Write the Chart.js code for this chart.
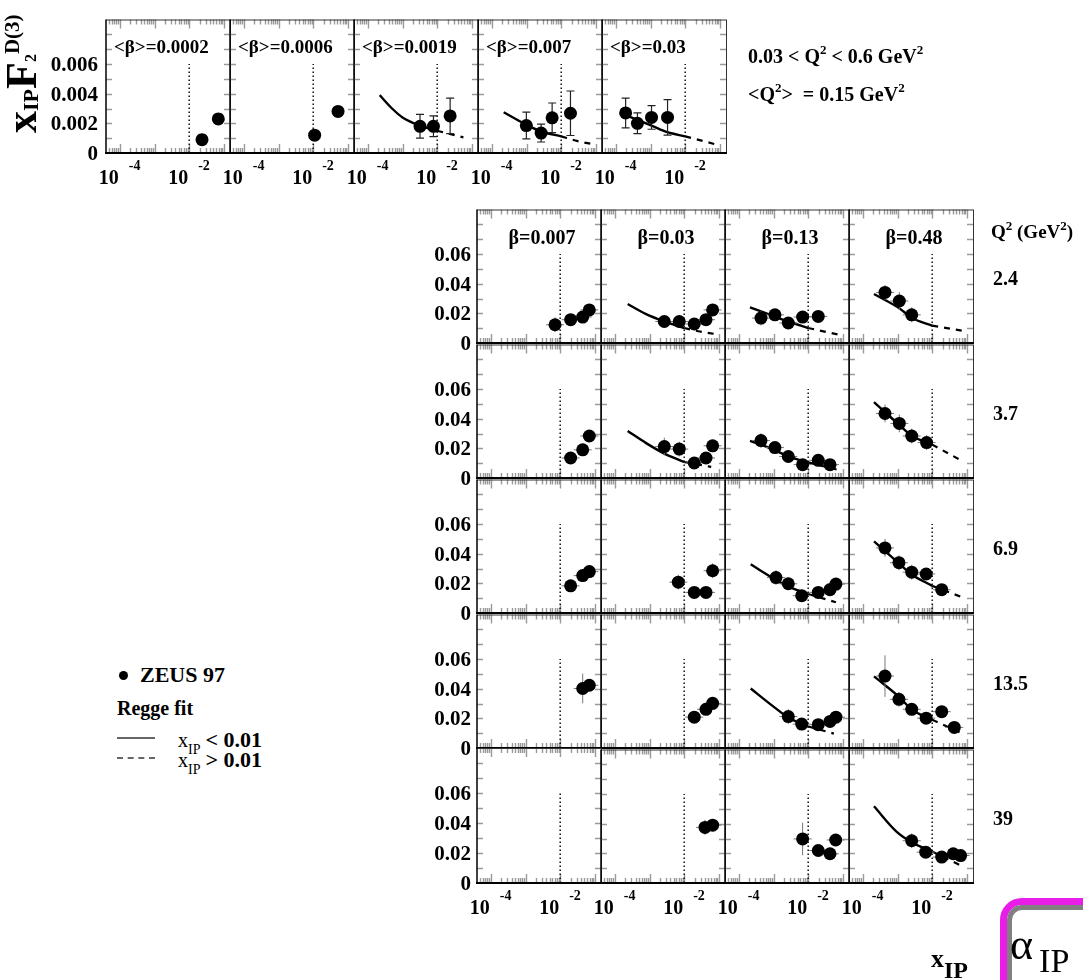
<!DOCTYPE html>
<html><head><meta charset="utf-8">
<script src="https://cdn.jsdelivr.net/npm/chart.js@4.4.1/dist/chart.umd.min.js"></script>
<style>
html,body{margin:0;padding:0;background:#fff;}
body{width:1083px;height:980px;position:relative;overflow:hidden;font-family:'Liberation Serif','Times New Roman',serif;color:#000;}
canvas{position:absolute;}
.t{position:absolute;white-space:nowrap;font-weight:bold;line-height:1;}
.sup{position:relative;}
</style></head><body>
<script>
// ---------------- DATA ----------------
const X_MIN = 4e-5, X_MAX = 0.15;
const cutX = 0.01;
const topTitles = ['<β>=0.0002','<β>=0.0006','<β>=0.0019','<β>=0.007','<β>=0.03'];
const betaTitles = ['β=0.007','β=0.03','β=0.13','β=0.48'];
const q2Values = ['2.4','3.7','6.9','13.5','39'];
const topYTicks = [0, 0.002, 0.004, 0.006];
const topYTickLabels = ['0','0.002','0.004','0.006'];
const gridYTicks = [0, 0.02, 0.04, 0.06];
const gridYTickLabels = ['0','0.02','0.04','0.06'];
const xTickValues = [1e-4, 1e-2];
const xTickBase = '10';
const xTickExponents = ['-4','-2'];

// top row (0.03 < Q2 < 0.6): points [xIP, xIP*F2D3, error]
const top_b0002 = [[0.0234,0.0009,0.0003],[0.069,0.0023,0.0003]];
const top_b0006 = [[0.011,0.0012,0.0003],[0.052,0.0028,0.0003]];
const top_b0019 = [[0.0032,0.0018,0.0008],[0.0078,0.0018,0.0007],[0.0236,0.0025,0.0012]];
const top_b0019_fit = [[2.2e-4,0.0039],[5e-4,0.0030],[1e-3,0.0024],[0.0032,0.00185],[0.01,0.0015],[0.057,0.00105]];
const top_b0007 = [[9.9e-4,0.00185,0.0009],[0.00264,0.00134,0.0006],[0.00548,0.00237,0.001],[0.0185,0.00268,0.0015]];
const top_b0007_fit = [[2.2e-4,0.00275],[1e-3,0.0019],[0.0027,0.00145],[0.01,0.00112],[0.03,0.0008],[0.079,0.0006]];
const top_b003 = [[1.92e-4,0.0027,0.001],[4.2e-4,0.002,0.0007],[0.00107,0.0024,0.0008],[0.0031,0.0024,0.0012]];
const top_b003_fit = [[2.06e-4,0.00252],[1.07e-3,0.00185],[0.0031,0.0014],[0.01,0.00112],[0.077,0.00058]];

// grid: Q2 = 2.4
const q24_b0007 = [[0.0071,0.0123,0.005],[0.020,0.0157,0.003],[0.0445,0.0175,0.003],[0.069,0.0223,0.003]];
const q24_b003 = [[0.00267,0.0145,0.003],[0.0072,0.0145,0.003],[0.0195,0.0128,0.003],[0.0425,0.0157,0.003],[0.066,0.0223,0.003]];
const q24_b003_fit = [[2.35e-4,0.0263],[8e-4,0.0195],[0.0025,0.0148],[0.01,0.0101],[0.0255,0.0079],[0.077,0.0061]];
const q24_b013 = [[4.36e-4,0.0168,0.005],[0.0011,0.019,0.003],[0.00267,0.0135,0.003],[0.0069,0.0175,0.003],[0.0195,0.0179,0.003]];
const q24_b013_fit = [[2.1e-4,0.0241],[0.0011,0.0178],[0.00267,0.0145],[0.01,0.0101],[0.074,0.0057]];
const q24_b048 = [[4.36e-4,0.0341,0.005],[0.00113,0.0283,0.006],[0.00257,0.019,0.005]];
const q24_b048_fit = [[2.1e-4,0.033],[0.0012,0.023],[0.00257,0.017],[0.01,0.0117],[0.071,0.0083]];
// Q2 = 3.7
const q37_b0007 = [[0.020,0.0135,0.003],[0.0445,0.019,0.003],[0.069,0.0283,0.004]];
const q37_b003 = [[0.00267,0.0212,0.006],[0.0072,0.0195,0.005],[0.0195,0.0101,0.003],[0.0425,0.0135,0.003],[0.066,0.0217,0.003]];
const q37_b003_fit = [[2.35e-4,0.0317],[8e-4,0.0235],[0.0025,0.0168],[0.01,0.0108],[0.06,0.0075]];
const q37_b013 = [[4.36e-4,0.0252,0.005],[0.0011,0.0205,0.003],[0.00267,0.0145,0.003],[0.0069,0.009,0.003],[0.0195,0.0119,0.003],[0.0425,0.009,0.003]];
const q37_b013_fit = [[2.1e-4,0.025],[0.0011,0.0188],[0.00267,0.0145],[0.01,0.0105],[0.066,0.0057]];
const q37_b048 = [[4.36e-4,0.0435,0.006],[0.00113,0.0368,0.006],[0.00257,0.0283,0.005],[0.0069,0.0239,0.005]];
const q37_b048_fit = [[2.1e-4,0.0512],[0.00113,0.0357],[0.00257,0.0285],[0.01,0.0225],[0.063,0.0123]];
// Q2 = 6.9
const q69_b0007 = [[0.020,0.0183,0.003],[0.0445,0.0252,0.003],[0.069,0.0279,0.003]];
const q69_b003 = [[0.00676,0.0208,0.005],[0.0195,0.0139,0.003],[0.0425,0.0139,0.003],[0.066,0.0285,0.005]];
const q69_b013 = [[0.00118,0.0239,0.005],[0.00267,0.0197,0.003],[0.0065,0.0117,0.003],[0.0195,0.0139,0.003],[0.0425,0.0157,0.003],[0.063,0.0195,0.003]];
const q69_b013_fit = [[2.2e-4,0.0328],[0.0012,0.0222],[0.0024,0.0183],[0.01,0.0128],[0.063,0.0072]];
const q69_b048 = [[4.36e-4,0.0439,0.006],[0.0011,0.0339,0.005],[0.00257,0.0275,0.005],[0.0067,0.0263,0.004],[0.0188,0.0157,0.003]];
const q69_b048_fit = [[2.1e-4,0.0483],[0.0011,0.0335],[0.00257,0.026],[0.01,0.0183],[0.07,0.0108]];
// Q2 = 13.5
const q135_b0007 = [[0.0445,0.0401,0.01],[0.069,0.0423,0.004]];
const q135_b003 = [[0.0195,0.0208,0.003],[0.0425,0.0261,0.003],[0.066,0.0301,0.004]];
const q135_b013 = [[0.00267,0.0212,0.005],[0.0065,0.0161,0.003],[0.0195,0.0157,0.003],[0.0425,0.0179,0.003],[0.063,0.0208,0.003]];
const q135_b013_fit = [[2.2e-4,0.0401],[1e-3,0.0279],[0.00267,0.0205],[0.01,0.0145],[0.055,0.0097]];
const q135_b048 = [[4.36e-4,0.0485,0.014],[0.0011,0.0328,0.005],[0.00257,0.0261,0.004],[0.0067,0.0201,0.003],[0.0188,0.0245,0.004],[0.0433,0.0139,0.003]];
const q135_b048_fit = [[2.1e-4,0.0483],[0.0011,0.0345],[0.00257,0.026],[0.01,0.019],[0.07,0.0101]];
// Q2 = 39
const q39_b0007 = [];
const q39_b003 = [[0.0397,0.0375,0.005],[0.066,0.039,0.004]];
const q39_b013 = [[0.0069,0.0297,0.011],[0.0195,0.0219,0.003],[0.0425,0.0197,0.003],[0.062,0.029,0.003]];
const q39_b048 = [[0.00257,0.0285,0.005],[0.0065,0.0208,0.003],[0.0188,0.0175,0.003],[0.0405,0.0197,0.004],[0.066,0.0185,0.003]];
const q39_b048_fit = [[2.1e-4,0.0517],[9.5e-4,0.0345],[0.00257,0.0275],[0.01,0.0212],[0.06,0.0123]];

const topPts = [top_b0002, top_b0006, top_b0019, top_b0007, top_b003];
const topFits = [null, null, top_b0019_fit, top_b0007_fit, top_b003_fit];
const gridPts = [
  [q24_b0007, q24_b003, q24_b013, q24_b048],
  [q37_b0007, q37_b003, q37_b013, q37_b048],
  [q69_b0007, q69_b003, q69_b013, q69_b048],
  [q135_b0007, q135_b003, q135_b013, q135_b048],
  [q39_b0007, q39_b003, q39_b013, q39_b048]
];
const gridFits = [
  [null, q24_b003_fit, q24_b013_fit, q24_b048_fit],
  [null, q37_b003_fit, q37_b013_fit, q37_b048_fit],
  [null, null, q69_b013_fit, q69_b048_fit],
  [null, null, q135_b013_fit, q135_b048_fit],
  [null, null, null, q39_b048_fit]
];

// ---------------- LAYOUT ----------------
const PANEL_W = 124, PANEL_H = 135;
const PAD = {left: 75, right: 30, top: 5, bottom: 42};
const topLefts = [106, 230, 354, 478, 602], topTop = 18;
const gridLefts = [477, 601, 725, 849], gridTops = [208, 343, 478, 613, 748];
const FONT = '"Liberation Serif", "Times New Roman", serif';

function framePlugin(c) {
  return {
    id: 'frame',
    beforeDatasetsDraw(chart) {
      const {ctx, chartArea: a, scales: {x, y}} = chart;
      ctx.save();
      ctx.strokeStyle = '#9a9a9a'; ctx.lineWidth = 1.4;
      ctx.beginPath();
      for (let i = 1; i * c.yStep < c.ymax - 1e-12; i++) {
        const py = Math.round(y.getPixelForValue(i * c.yStep)) + 0.5;
        ctx.moveTo(a.left, py); ctx.lineTo(a.left + 6, py);
        ctx.moveTo(a.right, py); ctx.lineTo(a.right - 6, py);
      }
      for (let n = -5; n <= 0; n++) for (let k = 1; k <= 9; k++) {
        const v = k * Math.pow(10, n);
        if (v <= X_MIN || v >= X_MAX) continue;
        const px = Math.round(x.getPixelForValue(v)) + 0.5;
        const len = k === 1 ? 9 : 5;
        ctx.moveTo(px, a.bottom); ctx.lineTo(px, a.bottom - len);
        ctx.moveTo(px, a.top); ctx.lineTo(px, a.top + len);
      }
      ctx.stroke();
      ctx.restore();
    },
    beforeDatasetDraw(chart, args) {
      if (args.index !== 0) return;
      const {ctx, scales: {x, y}} = chart;
      const pts = chart.data.datasets[0].data;
      ctx.save();
      ctx.strokeStyle = c.caps ? '#222' : '#777';
      ctx.lineWidth = c.caps ? 1.2 : 1;
      ctx.beginPath();
      pts.forEach(p => {
        const px = x.getPixelForValue(p.x), py = y.getPixelForValue(p.y);
        const y1 = y.getPixelForValue(p.y + p.e), y2 = y.getPixelForValue(Math.max(0, p.y - p.e));
        ctx.moveTo(px, y1); ctx.lineTo(px, y2);
        if (c.caps) {
          ctx.moveTo(px - 4, y1); ctx.lineTo(px + 4, y1);
          ctx.moveTo(px - 4, y2); ctx.lineTo(px + 4, y2);
        } else {
          ctx.moveTo(px - 9, py); ctx.lineTo(px + 9, py);
        }
      });
      ctx.stroke();
      ctx.restore();
    },
    afterDraw(chart) {
      const {ctx, chartArea: a, scales: {x, y}} = chart;
      ctx.save();
      // frame
      ctx.strokeStyle = '#333'; ctx.lineWidth = 1;
      ctx.beginPath();
      ctx.moveTo(a.left, a.top + 0.5); ctx.lineTo(a.right, a.top + 0.5);
      ctx.moveTo(a.right + 0.5, a.top); ctx.lineTo(a.right + 0.5, a.bottom);
      ctx.stroke();
      ctx.strokeStyle = '#000'; ctx.lineWidth = 1.5;
      ctx.beginPath();
      ctx.moveTo(a.left, a.top); ctx.lineTo(a.left, a.bottom);
      ctx.stroke();
      ctx.lineWidth = 1.8;
      ctx.beginPath();
      ctx.moveTo(a.left - 1, a.bottom); ctx.lineTo(a.right + 1, a.bottom);
      ctx.stroke();
      ctx.fillStyle = '#000';
      // y labels
      if (c.showY) {
        ctx.font = 'bold 21px ' + FONT;
        ctx.textAlign = 'right'; ctx.textBaseline = 'alphabetic';
        c.yTicks.forEach((v, i) => {
          ctx.fillText(c.yLabels[i], a.left - c.yGap, y.getPixelForValue(v) + 7);
        });
      }
      // x labels
      if (c.showX) {
        ctx.textBaseline = 'alphabetic';
        xTickValues.forEach((v, i) => {
          const px = x.getPixelForValue(v);
          ctx.font = 'bold 20px ' + FONT; ctx.textAlign = 'right';
          ctx.fillText(xTickBase, px - 1, a.bottom + 31);
          ctx.font = 'bold 14px ' + FONT; ctx.textAlign = 'left';
          ctx.fillText(xTickExponents[i], px + 9, a.bottom + 17);
        });
      }
      // title
      if (c.title) {
        ctx.font = 'bold ' + c.titleSize + 'px ' + FONT;
        ctx.textBaseline = 'alphabetic';
        if (c.titleCentered) {
          ctx.textAlign = 'center';
          ctx.fillText(c.title, (a.left + a.right) / 2 + 3, a.top + 34);
        } else {
          ctx.textAlign = 'left';
          ctx.fillText(c.title, a.left + 8, a.top + 33);
        }
      }
      ctx.restore();
    }
  };
}

function makePanel(c) {
  const cv = document.createElement('canvas');
  const w = PANEL_W + PAD.left + PAD.right, h = PANEL_H + PAD.top + PAD.bottom;
  cv.width = w; cv.height = h;
  cv.style.left = (c.left - PAD.left) + 'px';
  cv.style.top = (c.top - PAD.top) + 'px';
  cv.style.width = w + 'px'; cv.style.height = h + 'px';
  document.body.appendChild(cv);
  const pts = (c.pts || []).map(p => ({x: p[0], y: p[1], e: p[2]}));
  const fit = c.fit || [];
  const solid = fit.filter(p => p[0] <= cutX).map(p => ({x: p[0], y: p[1]}));
  const dash = fit.filter(p => p[0] >= cutX).map(p => ({x: p[0], y: p[1]}));
  new Chart(cv, {
    type: 'scatter',
    data: {datasets: [
      {type: 'scatter', order: 0, data: pts, backgroundColor: '#000', borderColor: '#000', borderWidth: 0, pointRadius: c.r, pointHoverRadius: c.r},
      {type: 'line', order: 1, data: solid, borderColor: '#000', borderWidth: 2.4, pointRadius: 0, cubicInterpolationMode: 'monotone', fill: false},
      {type: 'line', order: 2, data: dash, borderColor: '#000', borderWidth: 2.2, borderDash: [6, 6], pointRadius: 0, cubicInterpolationMode: 'monotone', fill: false},
      {type: 'line', order: 3, data: [{x: cutX, y: 0}, {x: cutX, y: c.dotTop}], borderColor: '#111', borderWidth: 1.5, borderDash: [1.5, 2.5], pointRadius: 0, fill: false}
    ]},
    options: {
      responsive: false, animation: false, devicePixelRatio: 1, events: [],
      layout: {padding: PAD},
      plugins: {legend: {display: false}, tooltip: {enabled: false}},
      scales: {
        x: {type: 'logarithmic', min: X_MIN, max: X_MAX, display: false},
        y: {type: 'linear', min: 0, max: c.ymax, display: false}
      }
    },
    plugins: [framePlugin(c)]
  });
}

topLefts.forEach((L, i) => makePanel({
  left: L, top: topTop, ymax: 0.009, yStep: 0.001, dotTop: 0.006,
  pts: topPts[i], fit: topFits[i], title: topTitles[i], titleCentered: false, titleSize: 19,
  showY: i === 0, yTicks: topYTicks, yLabels: topYTickLabels, yGap: 8, showX: true, caps: true, r: 6.5
}));
gridTops.forEach((T, r) => gridLefts.forEach((L, c) => makePanel({
  left: L, top: T, ymax: 0.09, yStep: 0.01, dotTop: 0.06,
  pts: gridPts[r][c], fit: gridFits[r][c], title: r === 0 ? betaTitles[c] : null, titleCentered: true, titleSize: 20,
  showY: c === 0, yTicks: gridYTicks, yLabels: gridYTickLabels, yGap: 6, showX: r === gridTops.length - 1, caps: false, r: 6.5
})));

// ---------------- TEXT ----------------
function addText(html, left, baseline, size, style) {
  const d = document.createElement('div');
  d.className = 't';
  d.innerHTML = html;
  d.style.left = left + 'px';
  d.style.top = (baseline - 0.8375 * size) + 'px';
  d.style.fontSize = size + 'px';
  if (style) d.style.cssText += style;
  document.body.appendChild(d);
  return d;
}
const sup = (s, fs, up) => `<span class="sup" style="font-size:${fs}px;top:-${up}px">${s}</span>`;
const sub = (s, fs, dn, extra) => `<span class="sup" style="font-size:${fs}px;top:${dn}px;${extra||''}">${s}</span>`;

addText('0.03 &lt; Q' + sup('2', 13, 9) + ' &lt; 0.6 GeV' + sup('2', 13, 9), 748, 63, 20);
addText('&lt;Q' + sup('2', 13, 9) + '&gt; &nbsp;= 0.15 GeV' + sup('2', 13, 9), 748, 101, 20);
addText('Q' + sup('2', 13, 8) + ' (GeV' + sup('2', 13, 8) + ')', 991, 238, 19);
q2Values.forEach((q, i) => addText(q, 993, gridTops[i] + 77, 20));

// y-axis title
const yt = document.createElement('div');
yt.style.cssText = 'position:absolute;left:0;top:0;transform-origin:0 0;transform:translate(-4px,133px) rotate(-90deg);font-weight:bold;font-size:44px;line-height:52px;white-space:nowrap;';
yt.innerHTML = 'x' + sub('IP', 22, 2) + 'F' + sub('2', 16, 0) + sup('D(3)', 21, 17);
document.body.appendChild(yt);

// legend
const dot = document.createElement('div');
dot.style.cssText = 'position:absolute;left:119px;top:671px;width:9px;height:9px;border-radius:50%;background:#000;';
document.body.appendChild(dot);
addText('ZEUS 97', 140, 682, 22);
addText('Regge fit', 117, 715, 20);
const l1 = document.createElement('div');
l1.style.cssText = 'position:absolute;left:117px;top:737px;width:38px;height:0;border-top:2.5px solid #666;';
document.body.appendChild(l1);
const l2 = document.createElement('div');
l2.style.cssText = 'position:absolute;left:117px;top:757px;width:38px;height:0;border-top:2px dashed #666;';
document.body.appendChild(l2);
addText('<span style="font-weight:normal;font-size:20px">x</span>' + sub('IP', 14, 7, 'font-weight:normal;margin-right:5px') + '&lt; 0.01', 178, 747, 22);
addText('<span style="font-weight:normal;font-size:20px">x</span>' + sub('IP', 14, 7, 'font-weight:normal;margin-right:5px') + '&gt; 0.01', 178, 767, 22);

// x-axis title
addText('x' + sub('IP', 24, 11), 931, 968, 26);

// alpha_IP box
const box = document.createElement('div');
box.style.cssText = 'position:absolute;left:1000px;top:898px;width:140px;height:120px;border:7px solid #e81ee8;border-radius:22px;';
const inner = document.createElement('div');
inner.style.cssText = 'position:absolute;left:0;top:0;right:0;bottom:0;border:5px solid #808080;border-radius:15px;';
box.appendChild(inner);
document.body.appendChild(box);
addText('α' + '<span class="sup" style="font-size:34px;margin-left:6px;top:13px">IP</span>', 1010, 960, 44, 'font-weight:normal;');
</script>
</body></html>
